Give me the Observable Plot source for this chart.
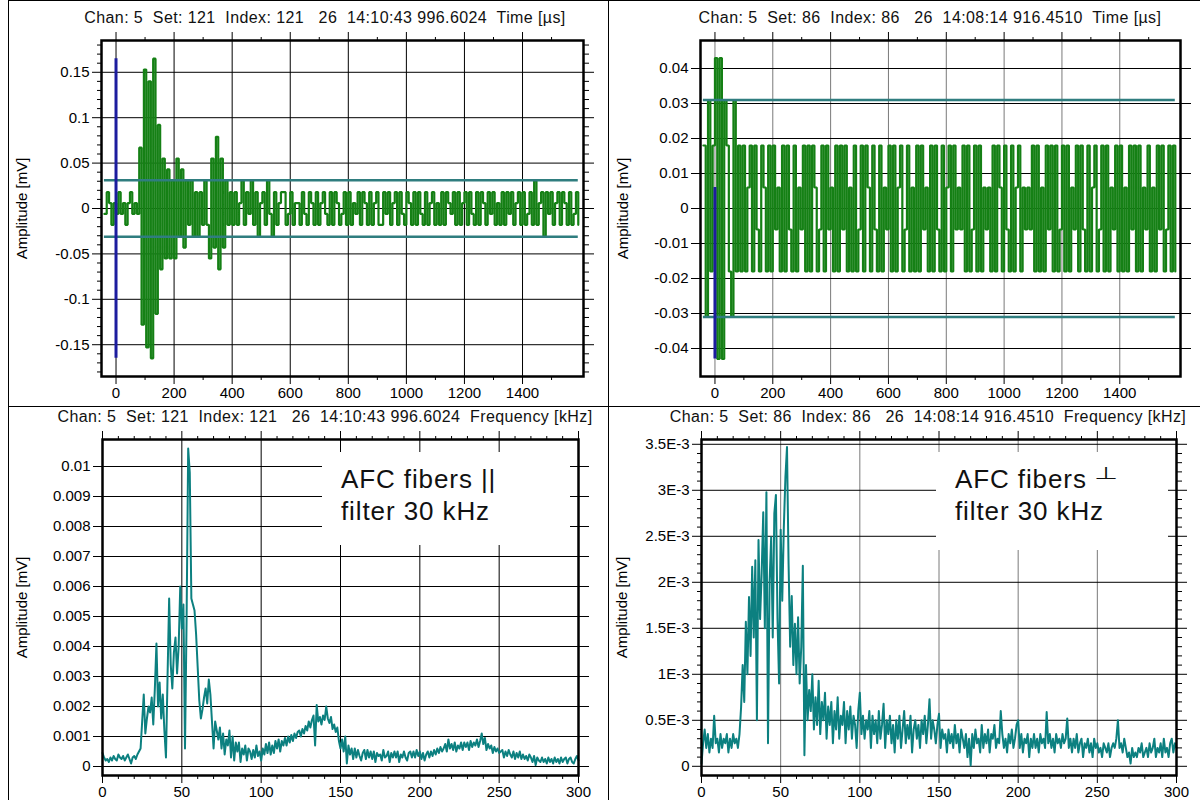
<!DOCTYPE html>
<html><head><meta charset="utf-8">
<script src="https://cdn.jsdelivr.net/npm/d3@7"></script>
<script src="https://cdn.jsdelivr.net/npm/@observablehq/plot@0.6"></script>
<style>
body{margin:0;background:#fff;}
#page{position:relative;width:1200px;height:800px;overflow:hidden;background:#fff;font-family:"Liberation Sans",Arial,sans-serif;}
.title{position:absolute;white-space:pre;font-size:16px;line-height:20px;letter-spacing:0.4px;color:#111;transform:translateX(-50%);}
.panel{position:absolute;}
.rule{position:absolute;background:#000;}
.note{position:absolute;background:#fff;}
.note span.line{position:absolute;white-space:pre;font-size:26px;letter-spacing:0.9px;color:#111;}
.note span.sym{display:inline-block;font-family:"DejaVu Sans",sans-serif;font-size:26px;transform:translateY(-11px) scale(1.05,0.66);transform-origin:50% 100%;}
</style></head><body><div id="page"></div>
<script>
// ---------------- data ----------------
const titles = [
  "Chan: 5  Set: 121  Index: 121   26  14:10:43 996.6024  Time [µs]",
  "Chan: 5  Set: 86  Index: 86   26  14:08:14 916.4510  Time [µs]",
  "Chan: 5  Set: 121  Index: 121   26  14:10:43 996.6024  Frequency [kHz]",
  "Chan: 5  Set: 86  Index: 86   26  14:08:14 916.4510  Frequency [kHz]"
];
const yLabelText = "Amplitude [mV]";
const notes = [["AFC fibers ||", "filter 30 kHz"], ["AFC fibers \u22A5", "filter 30 kHz"]];

// waveforms: amplitude in µV, sampled from waveStart every waveStep µs
const waveStart = -40;
const waveStep = 8;
const waveA = [
  -6, 18, 6, -18, 6, -6, 18, -6, 6, -18, 6, 18, -6, 6, -6,
  67, -128, 153, -153, 140, -165, 165, -116, 92, -67, 55, -55, 43, -55, 31, -55, 55, -31, 43, -43,
  31, -18, 31, -31, 18, -31, 18, -18, 31, -18, -55, 55, -43, 79, -67, 55, -43, 31, -18, 18, -18,
  18, -18, 6, 31, -18, 18, -6, 31, -18, 18, -31, 6, 18, -18, 31, -6, -31, 18, -18, 6,
  18, 18, -18, -6, 18, -18, 6, 6, -18, 18, -6, -18, 18, 6, -18, 18, -18, 6, 18, -6,
  -18, 18, -18, 18, 6, -18, -6, 18, -18, 18, -18, 6, -6, 18, -18, 18, 6, -18, 18, -18,
  6, 18, -18, -18, 18, -6, 18, -18, 6, 18, -18, 18, -6, -18, 18, 6, -18, 18, -18, 18,
  -6, -18, 18, -18, 6, 18, -18, 6, -18, 18, -18, 18, 6, -6, 18, -18, 18, -18, 6, 18,
  -18, 18, -6, -18, 18, -18, 18, 6, -18, 18, -6, 18, -18, 6, -18, 18, -18, 18, -6, 18,
  -18, 6, 18, -18, 18, -18, -6, 18, -18, 31, -18, 6, 18, -31, 18, -6, 18, -18, 6, 18,
  -18, 18, 6, -18, 18, -18, -6, 18, -18
];
const waveB = [
  18, -31, 31, -18, 18, 43, -43, 43, -43, 31, 18, -18, -31, 31, -18, 18,
  -18, 18, -18, 6, 18, -18, 18, -6, -18, 18, 6, -18, 18, -18, 18, -6, 6, -18, 18, -18,
  18, -6, -18, 18, -18, 6, -6, 18, -18, 18, -18, 18, 6, -18, -6, 18, -18, 18, -6, 6,
  -18, 18, -18, 18, -6, 18, -18, 6, -18, 18, -18, -6, 18, -18, 18, 6, -18, 18, -6, -18,
  18, -18, 6, -6, 18, -18, 18, -18, 6, 18, -18, -6, 18, -18, 6, -18, 18, -18, 18, -6,
  6, -18, 18, -18, 18, -6, -18, 18, -18, 6, 18, -18, 18, -6, 6, -6, 18, -18, 18, -18,
  -6, 18, -18, 18, -18, 6, -6, 6, -18, 18, -18, 18, 6, -18, 18, -6, -18, 18, -18, 6,
  18, -18, 6, -6, 6, -6, 18, -18, 18, -18, 6, -18, 18, -6, 18, -18, 18, -18, -6, 18,
  -18, 18, -18, 6, -6, 18, -18, 18, -6, -18, 18, -18, 6, 18, -18, -6, 18, -18, 18, -18,
  6, -6, 18, -18, 18, -18, 6, -18, 18, -6,
  18, -18, 18, -18, 6, -6, 18, -18, 6, -18, 18, -6, 18, -18, -6, 18, -18, 18, -18
];
const thresholdUV = 31;
const markers = [{t: 0, lo: -165, hi: 165}, {t: 0, lo: -43, hi: 6}];

// spectra: amplitude in µV, from 0 kHz every specStep kHz
const specStep = 1;
const specA = [
  0.45, 0.3, 0.2, 0.25, 0.15, 0.3, 0.2, 0.35, 0.25, 0.2, 0.4, 0.3, 0.25, 0.35, 0.2, 0.3, 0.4, 0.25, 0.1, 0.3, 0.35, 0.25, 0.4, 0.5, 0.6,
  1.5, 2.4, 1.1, 1.6, 2.0,  1.8, 2.3, 1.4, 2.6, 4.1,  2.0, 2.8, 1.6, 2.4, 1.2,  0.3, 3.0, 5.6, 3.4, 2.6,
  3.8, 4.3, 3.1, 4.0, 6.0,  4.6, 5.4, 0.6, 4.9, 10.6,  9.8, 5.6, 5.4, 5.2, 4.4,  3.3, 2.2, 1.6, 1.9, 2.3,
  2.6, 2.1, 2.9, 2.4, 1.5,  0.6, 1.5, 1.2, 0.9, 1.3,  0.6, 1.1, 0.4, 0.9, 0.7,  1.2, 0.3, 1.0, 0.2, 0.8,
  0.5, 0.8, 0.15, 0.6, 0.4,  0.7, 0.2, 0.6, 0.5, 0.25,  0.55, 0.3, 0.7, 0.35, 0.5,  0.2, 0.6, 0.4, 0.75, 0.45,
  0.8, 0.4, 0.7, 0.45, 0.85,  0.6, 0.9, 0.5, 0.85, 0.7,  0.95, 0.7, 1.0, 0.8, 1.05,  0.85, 1.1, 0.95, 1.15, 1.2,
  1.0, 1.25, 1.1, 1.35, 1.2,  1.5, 1.3, 1.55, 1.7, 0.7,  2.05, 1.5, 1.65, 1.4, 1.7,  1.55, 2.0, 1.6, 1.45, 1.65,
  1.25, 1.4, 1.15, 1.3, 0.85,  0.6, 0.9, 0.5, 1.0, 0.1,  0.7, 0.4, 0.6, 0.25, 0.6,  0.3, 0.55, 0.35, 0.2, 0.45,
  0.55, 0.25, 0.55, 0.3, 0.5,  0.25, 0.5, 0.15, 0.45, 0.35,  0.4, 0.2, 0.55, 0.3, 0.35,  0.5, 0.15, 0.45, 0.3, 0.5,
  0.3, 0.5, 0.15, 0.4, 0.3,  0.5, 0.3, 0.2, 0.45, 0.5,  0.3, 0.5, 0.3, 0.55, 0.35,  0.5, 0.25, 0.45, 0.2, 0.4,
  0.5, 0.3, 0.5, 0.35, 0.55,  0.4, 0.6, 0.45, 0.65, 0.5,  0.6, 0.75, 0.5, 0.9, 0.6,  0.75, 0.55, 0.8, 0.5, 0.7,
  0.6, 0.8, 0.55, 0.8, 0.65,  0.8, 0.55, 0.85, 0.65, 0.8,  0.7, 0.9, 0.65, 0.85, 1.1,  0.75, 0.95, 0.55, 0.75, 0.6,
  0.7, 0.45, 0.65, 0.5, 0.6,  0.45, 0.5, 0.55, 0.3, 0.5,  0.35, 0.55, 0.4, 0.3, 0.5,  0.25, 0.45, 0.3, 0.5, 0.25,
  0.4, 0.25, 0.35, 0.2, 0.4,  0.3, 0.15, 0.35, 0.05, 0.3,  0.2, 0.15, 0.3, 0.15, 0.25,  0.1, 0.3, 0.15, 0.25, 0.1,
  0.3, 0.15, 0.25, 0.1, 0.3,  0.15, 0.25, 0.3, 0.1, 0.25,  0.3, 0.15, 0.1, 0.25, 0.35,  0.2
];
const specB = [
  0.03, 0.25, 0.4, 0.2, 0.35,  0.15, 0.3, 0.2, 0.55, 0.25,  0.3, 0.15, 0.35, 0.2, 0.3,  0.25, 0.35, 0.15, 0.3, 0.2,
  0.35, 0.25, 0.3, 0.2, 0.35,  0.64, 1.1, 0.7, 1.57, 1.0,  1.84, 1.2, 2.17, 1.4, 2.24,  0.5, 2.46, 1.6, 2.1, 2.76,
  1.5, 2.98, 0.25, 2.0, 2.49,  1.4, 2.75, 2.95, 1.6, 0.9,  2.57, 1.8, 2.6, 3.14, 3.47,  2.2, 1.3, 1.85, 1.1, 1.55,
  1.0, 1.62, 0.9, 1.3, 2.18,  0.12, 1.1, 0.5, 0.83, 0.6,  1.0, 0.4, 0.75, 0.45, 0.93,  0.35, 0.7, 0.5, 0.8, 0.3,
  0.65, 0.45, 0.7, 0.25, 0.6,  0.4, 0.75, 0.3, 0.55, 0.45,  0.7, 0.25, 0.6, 0.4, 0.65,  0.3, 0.55, 0.45, 0.2, 0.6,
  0.8, 0.35, 0.55, 0.3, 0.5,  0.4, 0.6, 0.2, 0.55, 0.35,  0.5, 0.25, 0.6, 0.3, 0.45,  0.68, 0.2, 0.5, 0.35, 0.55,
  0.25, 0.45, 0.15, 0.5, 0.3,  0.55, 0.2, 0.4, 0.6, 0.25,  0.45, 0.3, 0.55, 0.15, 0.4,  0.5, 0.3, 0.45, 0.2, 0.5,
  0.35, 0.55, 0.25, 0.45, 0.73,  0.3, 0.5, 0.4, 0.25, 0.45,  0.57, 0.2, 0.4, 0.3, 0.35,  0.15, 0.4, 0.25, 0.35, 0.2,
  0.45, 0.25, 0.35, 0.15, 0.4,  0.3, 0.2, 0.35, 0.1, 0.3,  0.01, 0.35, 0.2, 0.4, 0.25,  0.3, 0.15, 0.45, 0.2, 0.35,
  0.25, 0.4, 0.15, 0.35, 0.3,  0.45, 0.2, 0.3, 0.25, 0.6,  0.35, 0.2, 0.3, 0.15, 0.35,  0.25, 0.4, 0.2, 0.3, 0.45,
  0.5, 0.2, 0.35, 0.15, 0.3,  0.25, 0.35, 0.1, 0.3, 0.2,  0.35, 0.2, 0.3, 0.15, 0.35,  0.25, 0.3, 0.2, 0.59, 0.25,
  0.35, 0.2, 0.3, 0.15, 0.35,  0.25, 0.3, 0.2, 0.35, 0.25,  0.3, 0.52, 0.2, 0.3, 0.15,  0.3, 0.2, 0.35, 0.15, 0.25,
  0.3, 0.1, 0.25, 0.2, 0.3,  0.15, 0.25, 0.1, 0.3, 0.2,  0.25, 0.15, 0.2, 0.1, 0.25,  0.2, 0.15, 0.25, 0.1, 0.2,
  0.25, 0.2, 0.3, 0.5, 0.2,  0.25, 0.15, 0.3, 0.2, 0.1,  0.15, 0.03, 0.2, 0.1, 0.15,  0.1, 0.2, 0.15, 0.25, 0.1,
  0.15, 0.2, 0.1, 0.25, 0.15,  0.2, 0.3, 0.1, 0.2, 0.15,  0.25, 0.1, 0.3, 0.15, 0.2,  0.1, 0.25, 0.3, 0.15, 0.25,
  0.2
];

// ticks (values in µs / kHz / µV) and their labels (in mV)
const timeTicks = [0, 200, 400, 600, 800, 1000, 1200, 1400];
const timeLabels = ["0", "200", "400", "600", "800", "1000", "1200", "1400"];
const timeMinor = [100, 300, 500, 700, 900, 1100, 1300, 1500];
const freqTicks = [0, 50, 100, 150, 200, 250, 300];
const freqLabels = ["0", "50", "100", "150", "200", "250", "300"];
const freqMinor = [10, 20, 30, 40, 60, 70, 80, 90, 110, 120, 130, 140, 160, 170, 180, 190, 210, 220, 230, 240, 260, 270, 280, 290];
const yTicksA = [-150, -100, -50, 0, 50, 100, 150];
const yLabelsA = ["-0.15", "-0.1", "-0.05", "0", "0.05", "0.1", "0.15"];
const yMinorA = [-180, -170, -160, -140, -130, -120, -110, -90, -80, -70, -60, -40, -30, -20, -10, 10, 20, 30, 40, 60, 70, 80, 90, 110, 120, 130, 140, 160, 170, 180];
const yTicksB = [-40, -30, -20, -10, 0, 10, 20, 30, 40];
const yLabelsB = ["-0.04", "-0.03", "-0.02", "-0.01", "0", "0.01", "0.02", "0.03", "0.04"];
const yTicksC = [0, 1, 2, 3, 4, 5, 6, 7, 8, 9, 10];
const yLabelsC = ["0", "0.001", "0.002", "0.003", "0.004", "0.005", "0.006", "0.007", "0.008", "0.009", "0.01"];
const yTicksD = [0, 0.5, 1, 1.5, 2, 2.5, 3, 3.5];
const yLabelsD = ["0", "0.5E-3", "1E-3", "1.5E-3", "2E-3", "2.5E-3", "3E-3", "3.5E-3"];
const yMinorD = [0.1, 0.2, 0.3, 0.4, 0.6, 0.7, 0.8, 0.9, 1.1, 1.2, 1.3, 1.4, 1.6, 1.7, 1.8, 1.9, 2.1, 2.2, 2.3, 2.4, 2.6, 2.7, 2.8, 2.9, 3.1, 3.2, 3.3, 3.4];

// ---------------- styles ----------------
const FONT = '"Liberation Sans", Arial, sans-serif';
const GREEN = "#158015";
const THRESH = "#2f7d7f";
const BLUE = "#1c1c9e";
const SPEC = "#0c8080";
const GRAY = "#7a7a7a";

// ---------------- tables ----------------
const waveTable = vals => vals.map((v, i) => ({t: waveStart + i * waveStep, v}));
const specTable = vals => vals.map((v, i) => ({f: i * specStep, v}));
const tableA = waveTable(waveA), tableB = waveTable(waveB);
const tableC = specTable(specA), tableD = specTable(specB);

function panelPlot(o) {
  const xl = new Map(o.xTicks.map((d, i) => [d, o.xLabels[i]]));
  const yl = new Map(o.yTicks.map((d, i) => [d, o.yLabels[i]]));
  return Plot.plot({
    width: o.width, height: o.height,
    marginLeft: o.ml, marginRight: o.mr, marginTop: o.mt, marginBottom: o.mb,
    style: {fontFamily: FONT, fontSize: "15px", color: "#000", background: "transparent", overflow: "visible"},
    x: {domain: o.xDomain}, y: {domain: o.yDomain},
    marks: [
      Plot.gridX(o.xTicks, {stroke: o.xGrid, strokeOpacity: 1, strokeWidth: 1}),
      Plot.gridY(o.yTicks, {stroke: "#000", strokeOpacity: 1, strokeWidth: 1}),
      ...o.marks,
      Plot.frame({stroke: "#000", strokeWidth: 2.5}),
      Plot.axisX(o.xTicks, {anchor: "bottom", tickSize: 8, tickPadding: 3, tickFormat: d => xl.get(d), label: null}),
      Plot.axisX(o.xMinor, {anchor: "bottom", tickSize: 4, fill: "none", label: null}),
      Plot.axisX(o.xTicks, {anchor: "top", tickSize: 9, fill: "none", label: null}),
      Plot.axisX(o.xMinor, {anchor: "top", tickSize: 4, fill: "none", label: null}),
      Plot.axisY(o.yTicks, {anchor: "left", tickSize: 9, tickPadding: 3, tickFormat: d => yl.get(d), label: null}),
      o.yMinor ? Plot.axisY(o.yMinor, {anchor: "left", tickSize: 4, fill: "none", label: null}) : null,
      Plot.axisY(o.yTicks, {anchor: "right", tickSize: 10, fill: "none", label: null}),
      o.yMinor ? Plot.axisY(o.yMinor, {anchor: "right", tickSize: 5, fill: "none", label: null}) : null,
      Plot.text([yLabelText], {frameAnchor: "left", rotate: -90, dx: o.labelDx, text: d => d, textAnchor: "middle", fontSize: 15, fill: "#000"})
    ]
  });
}

function waveMarks(table, marker) {
  const ext = d3.extent(table, d => d.t);
  const th = [{y: thresholdUV}, {y: -thresholdUV}];
  return [
    Plot.line(table, {x: "t", y: "v", curve: "step-after", stroke: GREEN, strokeWidth: 2.2, strokeLinejoin: "miter"}),
    Plot.ruleY(th, {y: "y", x1: ext[0], x2: ext[1], stroke: THRESH, strokeWidth: 2.5}),
    Plot.ruleX([marker], {x: "t", y1: "lo", y2: "hi", stroke: BLUE, strokeWidth: 3})
  ];
}
function specMarks(table) {
  return [Plot.line(table, {x: "f", y: "v", stroke: SPEC, strokeWidth: 2})];
}

const page = document.getElementById("page");
function place(el, left, top) {
  const d = document.createElement("div");
  d.className = "panel";
  d.style.left = left + "px"; d.style.top = top + "px";
  d.appendChild(el); page.appendChild(d);
}
function addTitle(text, cx, top) {
  const d = document.createElement("div");
  d.className = "title"; d.textContent = text;
  d.style.left = cx + "px"; d.style.top = top + "px";
  page.appendChild(d);
}
function addRule(l, t, w, h) {
  const d = document.createElement("div");
  d.className = "rule";
  Object.assign(d.style, {left: l + "px", top: t + "px", width: w + "px", height: h + "px"});
  page.appendChild(d);
}
function addNote(lines, l, t, w, h, textLeft, baselines) {
  const d = document.createElement("div");
  d.className = "note";
  Object.assign(d.style, {left: l + "px", top: t + "px", width: w + "px", height: h + "px"});
  lines.forEach((s, i) => {
    const sp = document.createElement("span");
    sp.className = "line";
    const k = s.indexOf("\u22A5");
    if (k >= 0) {
      sp.appendChild(document.createTextNode(s.slice(0, k)));
      const sym = document.createElement("span");
      sym.className = "sym"; sym.textContent = s.slice(k);
      sp.appendChild(sym);
    } else sp.textContent = s;
    sp.style.left = (textLeft - l) + "px";
    sp.style.top = (baselines[i] - t - 24) + "px";
    d.appendChild(sp);
  });
  page.appendChild(d);
}

// panel dividers
addRule(8, 0, 1192, 1);
addRule(8, 0, 1, 800);
addRule(608, 0, 1, 800);
addRule(8, 406, 1192, 1);

addTitle(titles[0], 325, 8);
addTitle(titles[1], 930, 8);
addTitle(titles[2], 325, 407);
addTitle(titles[3], 928, 407);

place(panelPlot({
  width: 600, height: 378, ml: 101, mr: 17, mt: 12, mb: 30,
  xDomain: [-50, 1610], yDomain: [-185, 185],
  xTicks: timeTicks, xLabels: timeLabels, xMinor: timeMinor, xGrid: "#000",
  yTicks: yTicksA, yLabels: yLabelsA, yMinor: yMinorA,
  labelDx: -79, marks: waveMarks(tableA, markers[0])
}), 0, 28);

place(panelPlot({
  width: 592, height: 378, ml: 92, mr: 20, mt: 12, mb: 30,
  xDomain: [-50, 1610], yDomain: [-48, 48],
  xTicks: timeTicks, xLabels: timeLabels, xMinor: timeMinor, xGrid: GRAY,
  yTicks: yTicksB, yLabels: yLabelsB, yMinor: null,
  labelDx: -77, marks: waveMarks(tableB, markers[1])
}), 608, 28);

place(panelPlot({
  width: 600, height: 372, ml: 102, mr: 22, mt: 11, mb: 25,
  xDomain: [0, 300], yDomain: [-0.3, 10.9],
  xTicks: freqTicks, xLabels: freqLabels, xMinor: freqMinor, xGrid: "#000",
  yTicks: yTicksC, yLabels: yLabelsC, yMinor: null,
  labelDx: -80, marks: specMarks(tableC)
}), 0, 428);

place(panelPlot({
  width: 592, height: 372, ml: 93, mr: 24, mt: 11, mb: 25,
  xDomain: [0, 300], yDomain: [-0.1, 3.552],
  xTicks: freqTicks, xLabels: freqLabels, xMinor: freqMinor, xGrid: GRAY,
  yTicks: yTicksD, yLabels: yLabelsD, yMinor: yMinorD,
  labelDx: -79, marks: specMarks(tableD)
}), 608, 428);

addNote(notes[0], 322, 452, 248, 93, 341, [488, 520]);
addNote(notes[1], 936, 452, 232, 98, 955, [488, 520]);
</script></body></html>
